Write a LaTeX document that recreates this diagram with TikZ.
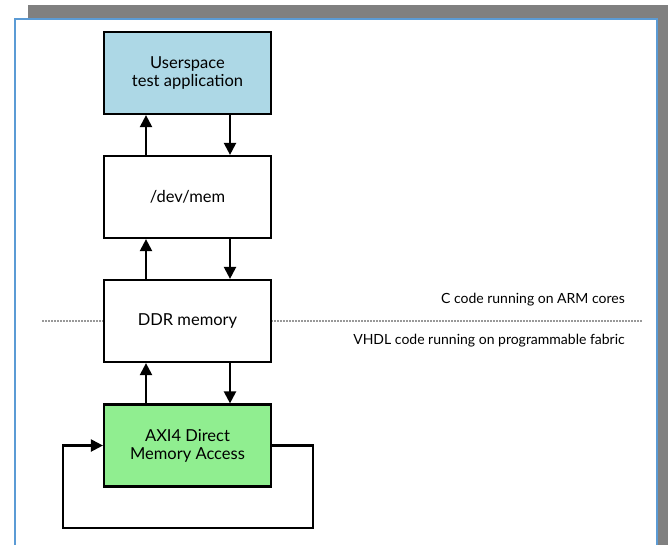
\documentclass[tikz,border=0pt]{standalone}
\usepackage{fontspec}
\setmainfont{Lato}
\usetikzlibrary{arrows.meta}
\definecolor{shadowgray}{HTML}{808080}
\definecolor{pageblue}{HTML}{5B9BD5}
\definecolor{appblue}{HTML}{ADD8E6}
\definecolor{dmagreen}{HTML}{90EE90}
\begin{document}
\begin{tikzpicture}[x=1pt,y=-1pt,
  block/.style={draw=black, line width=2.2pt, minimum width=167pt, minimum height=82pt,
    align=center, font=\fontsize{16.5}{18}\selectfont, inner sep=0pt},
  link/.style={line width=2.2pt, -{Triangle[width=12pt,length=12pt]}},
  divider/.style={draw=black!40, line width=1.5pt, dash pattern=on 1.5pt off 1.5pt},
  lane/.style={font=\fontsize{14}{16}\selectfont, anchor=east, inner sep=0pt}]
\useasboundingbox (0,0) rectangle (668,544);
\clip (0,0) rectangle (668,544);
% page shadow and page
\fill[shadowgray] (28,5) rectangle (668,560);
\draw[pageblue, fill=white, line width=1.5pt] (15,19) rectangle (657,570);
% boundary between software and hardware
\draw[divider] (42,321) -- (104,321);
\draw[divider] (271,321) -- (643,321);
\node[lane] (arm) at (625,300) {C code running on ARM cores};
\node[lane] (fpga) at (625,341) {VHDL code running on programmable fabric};
% blocks
\node[block, fill=appblue] (app) at (187.5,73) {Userspace\\test application};
\node[block, fill=white] (devmem) at (187.5,197) {/dev/mem};
\node[block, fill=white] (ddr) at (187.5,321) {DDR memory};
\node[block, fill=dmagreen] (dma) at (187.5,445.5) {AXI4 Direct\\Memory Access};
% connectors
\foreach \lower/\upper in {devmem/app, ddr/devmem, dma/ddr}{
  \draw[link] (\lower.north -| 146,0) -- (\upper.south -| 146,0);
  \draw[link] (\upper.south -| 230,0) -- (\lower.north -| 230,0);
}
\coordinate (loopR) at (313,528);
\coordinate (loopL) at (63,528);
\draw[link] (dma.east) -| (loopR) -- (loopL) |- (dma.west);
\end{tikzpicture}
\end{document}
